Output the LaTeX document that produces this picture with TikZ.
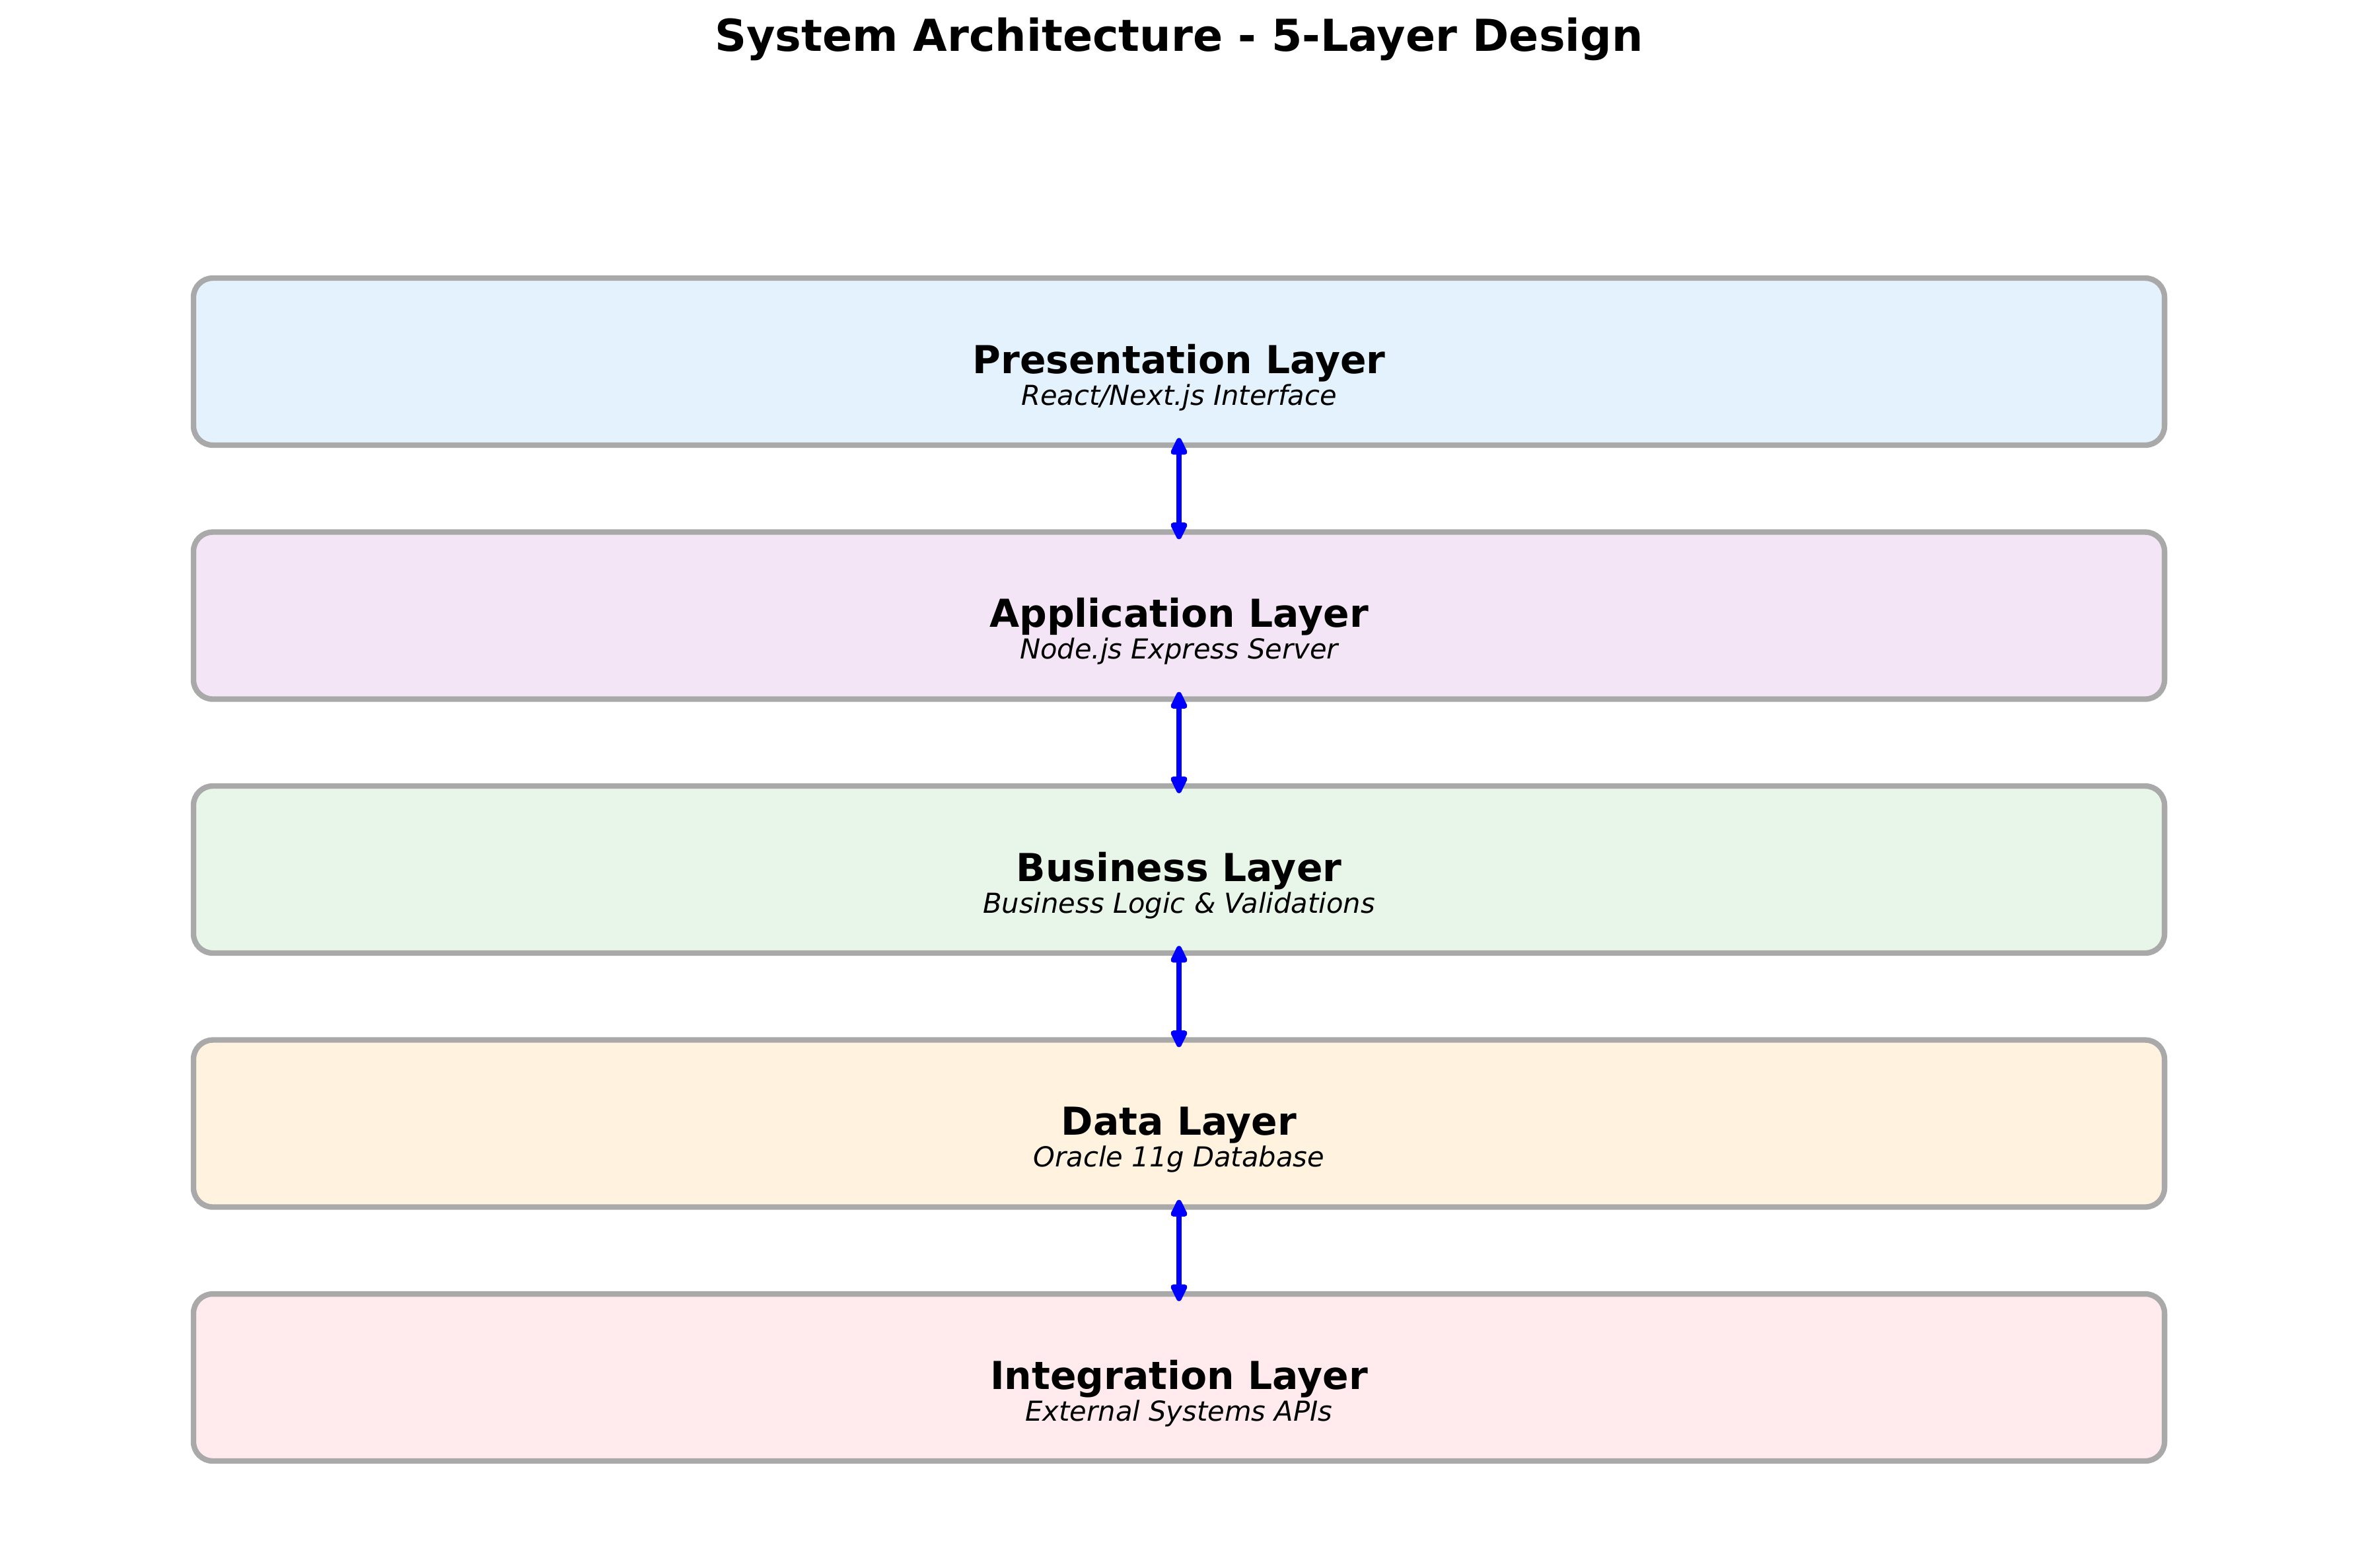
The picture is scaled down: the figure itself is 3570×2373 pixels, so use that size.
\documentclass[tikz,border=0pt]{standalone}
\usepackage{fontspec}
\setmainfont{DejaVu Sans}
\usetikzlibrary{arrows.meta}
\definecolor{bordergray}{HTML}{A9A9A9}
\definecolor{cpres}{HTML}{E3F2FD}
\definecolor{capp}{HTML}{F3E5F5}
\definecolor{cbus}{HTML}{E8F5E9}
\definecolor{cdata}{HTML}{FFF3E0}
\definecolor{cint}{HTML}{FFEBEE}
\tikzset{
  layerbox/.style={draw=bordergray, line width=2pt, rounded corners=7pt,
    minimum width=716.2pt, minimum height=60.7pt, inner sep=0pt, outer sep=0pt},
  layertitle/.style={font=\fontsize{14}{16}\selectfont\bfseries, inner sep=0pt},
  layersub/.style={font=\fontsize{10}{12}\selectfont\itshape, inner sep=0pt},
  figtitle/.style={font=\fontsize{16}{19}\selectfont\bfseries, inner sep=0pt},
  layerarrow/.style={draw=blue, line width=2pt,
    {Triangle[length=7.5pt,width=6.5pt,round]}-{Triangle[length=7.5pt,width=6.5pt,round]}},
}
\begin{document}
\begin{tikzpicture}[x=0.24pt,y=-0.24pt]
\useasboundingbox (0,0) rectangle (3570,2373);
\node[figtitle] (title) at (1785,59) {System Architecture - 5-Layer Design};
% boxes
\node[layerbox, fill=cpres] (b1) at (1785,547.5) {};
\node[layerbox, fill=capp]  (b2) at (1785,932.0) {};
\node[layerbox, fill=cbus]  (b3) at (1785,1316.5) {};
\node[layerbox, fill=cdata] (b4) at (1785,1701.0) {};
\node[layerbox, fill=cint]  (b5) at (1785,2085.5) {};
% labels
\node[layertitle] (t1) at (1785,549.5) {Presentation Layer};
\node[layersub] (s1) at (1785,601.5) {React/Next.js Interface};
\node[layertitle] (t2) at (1785,934.0) {Application Layer};
\node[layersub] (s2) at (1785,986.0) {Node.js Express Server};
\node[layertitle] (t3) at (1785,1318.5) {Business Layer};
\node[layersub] (s3) at (1785,1370.5) {Business Logic \& Validations};
\node[layertitle] (t4) at (1785,1703.0) {Data Layer};
\node[layersub] (s4) at (1785,1755.0) {Oracle 11g Database};
\node[layertitle] (t5) at (1785,2087.5) {Integration Layer};
\node[layersub] (s5) at (1785,2139.5) {External Systems APIs};
% arrows
\draw[layerarrow] ([yshift=2.6pt]b1.south) -- ([yshift=-2.6pt]b2.north);
\draw[layerarrow] ([yshift=2.6pt]b2.south) -- ([yshift=-2.6pt]b3.north);
\draw[layerarrow] ([yshift=2.6pt]b3.south) -- ([yshift=-2.6pt]b4.north);
\draw[layerarrow] ([yshift=2.6pt]b4.south) -- ([yshift=-2.6pt]b5.north);
\end{tikzpicture}
\end{document}
